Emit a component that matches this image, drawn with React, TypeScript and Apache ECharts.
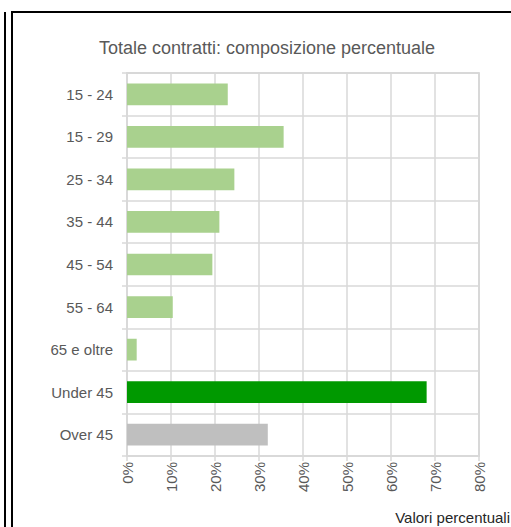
import React, { useEffect, useRef } from "react";
import * as echarts from "echarts";

const categories = ["15 - 24", "15 - 29", "25 - 34", "35 - 44", "45 - 54", "55 - 64", "65 e oltre", "Under 45", "Over 45"];
const values = [22.9, 35.6, 24.4, 21.0, 19.4, 10.4, 2.2, 68.1, 32.0];
const barColors = ["#a9d18e", "#a9d18e", "#a9d18e", "#a9d18e", "#a9d18e", "#a9d18e", "#a9d18e", "#009900", "#bfbfbf"];
const titleText = "Totale contratti: composizione percentuale";
const xAxisName = "Valori percentuali";

export default function App() {
  const ref = useRef<HTMLDivElement>(null);
  useEffect(() => {
    if (!ref.current) return;
    const chart = echarts.init(ref.current, null, { renderer: "svg" });
    const font = "'Liberation Sans', Arial, sans-serif";
    chart.setOption({
      animation: false,
      backgroundColor: "#ffffff",
      textStyle: { fontFamily: font },
      title: {
        text: titleText,
        left: 262,
        textAlign: "center",
        top: 34,
        textStyle: { fontSize: 18, fontWeight: "normal", color: "#595959", fontFamily: font },
      },
      grid: {
        left: 127,
        right: 32,
        top: 73,
        bottom: 71,
        show: true,
        borderColor: "#c8c8c8",
        borderWidth: 1.5,
        backgroundColor: "transparent",
      },
      xAxis: {
        type: "value",
        min: 0,
        max: 80,
        interval: 10,
        axisLine: { show: true, lineStyle: { color: "#d9d9d9", width: 2 } },
        axisTick: { show: true, length: 5, lineStyle: { color: "#d9d9d9", width: 1.5 } },
        splitLine: { show: true, lineStyle: { color: "#d9d9d9", width: 1.5 } },
        axisLabel: {
          rotate: 90,
          margin: 6,
          fontSize: 15,
          color: "#595959",
          fontFamily: font,
          formatter: "{value}%",
        },
      },
      yAxis: {
        type: "category",
        data: categories,
        inverse: true,
        axisLine: { show: true, lineStyle: { color: "#d9d9d9", width: 2 } },
        axisTick: { show: true, length: 5, lineStyle: { color: "#d9d9d9", width: 1.5 } },
        splitLine: { show: true, lineStyle: { color: "#d9d9d9", width: 1.5 } },
        axisLabel: { fontSize: 15, color: "#595959", margin: 14, fontFamily: font },
      },
      series: [
        {
          type: "bar",
          data: values.map((v, i) => ({ value: v, itemStyle: { color: barColors[i] } })),
          barWidth: "51%",
        },
      ],
      graphic: [
        {
          type: "text",
          right: 1,
          top: 510,
          style: { text: xAxisName, fontSize: 15, fill: "#262626", fontFamily: font },
        },
        {
          type: "rect",
          shape: { x: 4, y: 12, width: 2, height: 520 },
          style: { fill: "#000000" },
        },
        {
          type: "rect",
          shape: { x: 11, y: 11, width: 2, height: 520 },
          style: { fill: "#000000" },
        },
        {
          type: "rect",
          shape: { x: 11, y: 11, width: 510, height: 2 },
          style: { fill: "#000000" },
        },
      ],
    });
    return () => chart.dispose();
  }, []);
  return (
    <div
      ref={ref}
      style={{ position: "fixed", left: 0, top: 0, width: 511, height: 527 }}
    />
  );
}
